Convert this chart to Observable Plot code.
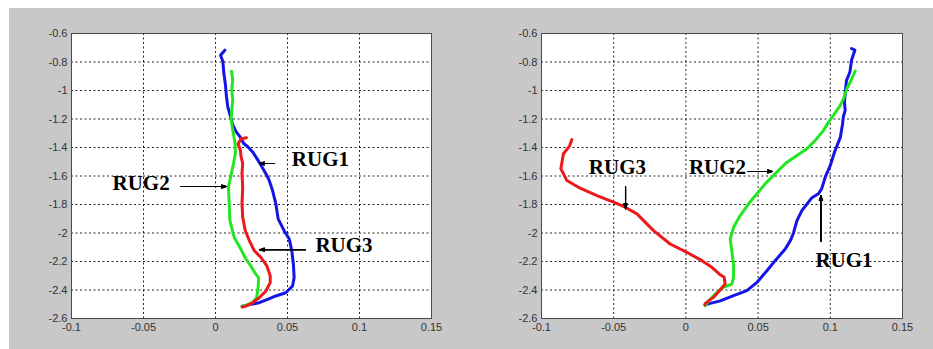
<!DOCTYPE html>
<html>
<head>
<meta charset="utf-8">
<script src="https://cdn.jsdelivr.net/npm/d3@7"></script>
<script src="https://cdn.jsdelivr.net/npm/@observablehq/plot@0.6"></script>
<style>
  html, body { margin: 0; padding: 0; background: #ffffff; }
  #wrap { position: relative; width: 933px; height: 349px; overflow: hidden; }
  #bg { position: absolute; left: 9px; top: 8px; right: 0; bottom: 0; background: #c8c8c8; }
  #left { position: absolute; left: 0; top: 0; }
  #right { position: absolute; left: 465px; top: 0; }
</style>
</head>
<body>
<div id="wrap">
  <div id="bg"></div>
  <div id="left"></div>
  <div id="right"></div>
</div>
<script>
// ---- data ----
const seriesNames = ["RUG1", "RUG2", "RUG3"];
const seriesColors = ["#1414e6", "#22e622", "#ec1a1a"];
const xTicks = [-0.1, -0.05, 0, 0.05, 0.1, 0.15];
const yTicks = [-0.6, -0.8, -1, -1.2, -1.4, -1.6, -1.8, -2, -2.2, -2.4, -2.6];

// left panel
const leftRUG1 = [[0.0065,-0.717],[0.0035,-0.753],[0.0051,-0.795],[0.0058,-0.878],[0.0069,-0.96],[0.0076,-1.042],[0.0085,-1.113],[0.0104,-1.184],[0.012,-1.242],[0.0143,-1.289],[0.0173,-1.329],[0.0196,-1.372],[0.0224,-1.395],[0.0258,-1.431],[0.0288,-1.478],[0.0316,-1.525],[0.035,-1.584],[0.0373,-1.631],[0.0396,-1.701],[0.0419,-1.795],[0.0435,-1.901],[0.0477,-1.984],[0.0512,-2.042],[0.053,-2.125],[0.0541,-2.219],[0.0546,-2.313],[0.0535,-2.372],[0.0488,-2.419],[0.0419,-2.442],[0.0362,-2.466],[0.0304,-2.489],[0.0247,-2.501],[0.0185,-2.513]];
const leftRUG2 = [[0.0111,-0.865],[0.012,-0.925],[0.0113,-0.995],[0.012,-1.066],[0.0113,-1.136],[0.0108,-1.207],[0.012,-1.278],[0.0136,-1.372],[0.0138,-1.442],[0.0125,-1.513],[0.011,-1.584],[0.009,-1.678],[0.0095,-1.795],[0.010,-1.913],[0.013,-2.031],[0.017,-2.101],[0.0205,-2.172],[0.0245,-2.231],[0.028,-2.289],[0.03,-2.315],[0.0295,-2.395],[0.0285,-2.454],[0.0258,-2.489],[0.0212,-2.506],[0.0185,-2.513]];
const leftRUG3 = [[0.0215,-1.331],[0.0178,-1.338],[0.0157,-1.374],[0.0173,-1.42],[0.0177,-1.46],[0.0189,-1.513],[0.0184,-1.584],[0.0189,-1.678],[0.0184,-1.795],[0.0189,-1.889],[0.0207,-1.984],[0.0235,-2.054],[0.027,-2.125],[0.0316,-2.172],[0.0357,-2.231],[0.038,-2.301],[0.038,-2.348],[0.035,-2.407],[0.0304,-2.454],[0.0258,-2.489],[0.0212,-2.513],[0.0185,-2.52]];
const leftLabels = [["RUG1", 0.053, -1.484], ["RUG2", -0.0715, -1.653], ["RUG3", 0.0694, -2.089]];
const leftArrows = [[0.041, -1.512, 0.0306, -1.512], [-0.0243, -1.674, 0.0076, -1.674], [0.0625, -2.117, 0.0306, -2.117]];

// right panel
const rightRUG1 = [[0.1147,-0.705],[0.117,-0.717],[0.1147,-0.788],[0.1136,-0.87],[0.1112,-0.93],[0.1105,-1.0],[0.1098,-1.081],[0.1103,-1.139],[0.109,-1.186],[0.1085,-1.233],[0.107,-1.327],[0.103,-1.43],[0.1,-1.526],[0.0965,-1.608],[0.094,-1.69],[0.0918,-1.725],[0.087,-1.755],[0.0803,-1.843],[0.0769,-1.913],[0.0745,-2.0],[0.0725,-2.05],[0.0688,-2.112],[0.0618,-2.194],[0.0561,-2.265],[0.0492,-2.347],[0.0422,-2.405],[0.033,-2.44],[0.0238,-2.476],[0.0168,-2.494],[0.0134,-2.504]];
const rightRUG2 = [[0.1172,-0.863],[0.115,-0.916],[0.1115,-0.987],[0.1092,-1.057],[0.1069,-1.104],[0.1022,-1.175],[0.0988,-1.222],[0.0953,-1.28],[0.0896,-1.35],[0.0838,-1.409],[0.0769,-1.456],[0.07,-1.503],[0.0653,-1.549],[0.0607,-1.596],[0.0549,-1.655],[0.0492,-1.725],[0.0434,-1.795],[0.0376,-1.878],[0.033,-1.96],[0.0307,-2.042],[0.0319,-2.136],[0.033,-2.218],[0.033,-2.311],[0.0319,-2.358],[0.026,-2.382],[0.0203,-2.428],[0.0157,-2.476],[0.0134,-2.511]];
const rightRUG3 = [[-0.079,-1.345],[-0.0806,-1.39],[-0.0848,-1.444],[-0.0866,-1.549],[-0.0824,-1.632],[-0.0744,-1.679],[-0.0616,-1.737],[-0.0501,-1.784],[-0.042,-1.819],[-0.0339,-1.866],[-0.0224,-1.983],[-0.0109,-2.077],[0.0007,-2.136],[0.0111,-2.194],[0.018,-2.241],[0.0238,-2.293],[0.0265,-2.311],[0.0272,-2.358],[0.0191,-2.452],[0.0134,-2.494],[0.0131,-2.504]];
const rightLabels = [["RUG3", -0.0672, -1.54], ["RUG2", 0.0021, -1.54], ["RUG1", 0.0897, -2.194]];
const rightArrows = [[-0.0418, -1.674, -0.0418, -1.829], [0.0431, -1.568, 0.06, -1.568], [0.0935, -2.058, 0.0935, -1.737]];

// ---- build ----
function toRows(list) {
  const rows = [];
  list.forEach((pts, i) => pts.forEach(([x, y]) => rows.push({x, y, s: seriesNames[i]})));
  return rows;
}
const fmt = d => String(d);

function panel(curves, labels, arrows, width, ml, mr) {
  const rows = toRows(curves);
  const labelRows = labels.map(([t, x, y]) => ({t, x, y}));
  const arrowRows = arrows.map(([x1, y1, x2, y2]) => ({x1, y1, x2, y2}));
  // layered arrowheads with decreasing angle give a filled-looking head
  const arrowMarks = [42, 32, 22, 12, 4].map(a =>
    Plot.arrow(arrowRows, {x1: "x1", y1: "y1", x2: "x2", y2: "y2", stroke: "#000", strokeWidth: 1.1, headLength: 7, headAngle: a}));
  return Plot.plot({
    width, height: 349,
    marginLeft: ml, marginRight: mr, marginTop: 33, marginBottom: 31,
    style: {background: "transparent", fontFamily: "'Liberation Sans', Arial, sans-serif", fontSize: "11px", color: "#333"},
    x: {domain: [-0.1, 0.15], label: null},
    y: {domain: [-2.6, -0.6], label: null},
    color: {domain: seriesNames, range: seriesColors},
    marks: [
      Plot.frame({fill: "#ffffff", stroke: "none"}),
      Plot.gridX(xTicks, {stroke: "#000", strokeOpacity: 0.85, strokeDasharray: "2,2.5", strokeWidth: 1}),
      Plot.gridY(yTicks, {stroke: "#000", strokeOpacity: 0.85, strokeDasharray: "2,2.5", strokeWidth: 1}),
      Plot.frame({stroke: "#4a4a4a", strokeWidth: 1}),
      Plot.axisX({ticks: xTicks, tickSize: 0, tickPadding: 5, tickFormat: fmt, label: null, fill: "#333"}),
      Plot.axisY({ticks: yTicks, tickSize: 0, tickPadding: 4, tickFormat: fmt, label: null, fill: "#333"}),
      Plot.line(rows, {x: "x", y: "y", z: "s", stroke: "s", strokeWidth: 3, curve: "linear"}),
      ...arrowMarks,
      Plot.text(labelRows, {x: "x", y: "y", text: "t", textAnchor: "start", fill: "#000",
        fontFamily: "'Liberation Serif', 'Times New Roman', serif", fontWeight: "bold", fontSize: 21})
    ]
  });
}

document.getElementById("left").appendChild(panel([leftRUG1, leftRUG2, leftRUG3], leftLabels, leftArrows, 465, 71, 34));
document.getElementById("right").appendChild(panel([rightRUG1, rightRUG2, rightRUG3], rightLabels, rightArrows, 468, 76, 31));
</script>
</body>
</html>
